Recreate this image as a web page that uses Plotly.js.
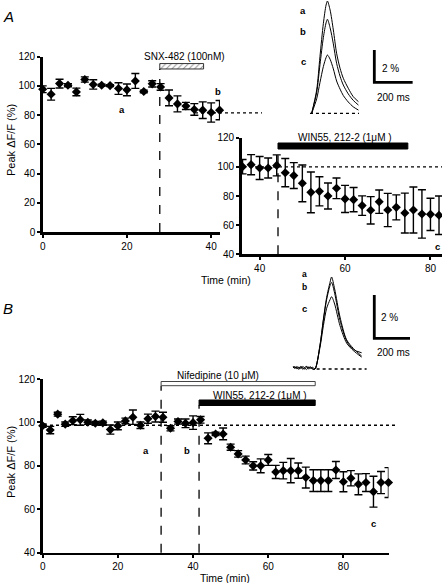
<!DOCTYPE html>
<html><head><meta charset="utf-8">
<script src="https://cdn.plot.ly/plotly-3.0.1.min.js"></script>
<style>html,body{margin:0;padding:0;background:#fff}#chart{width:442px;height:583px}</style>
</head><body><div id="chart"></div>
<script>
// ---------- DATA ----------
// Panel A, main graph (SNX-482)
const aTime  = [0,2,4,6,8,10,12,14,16,18,20,22,24,26,28,30,32,34,36,38,40,42];
const aValue = [97.7,94.3,101.6,100.5,95.9,104.4,101,100.5,100.2,98.2,97.3,103.4,96.2,101.4,99.3,91.8,87.7,86.3,83.9,83.4,81.8,83.4];
const aErr   = [2.3,4.0,3.0,1.1,2.6,1.8,3.2,0.7,0.7,4.0,4.0,5.1,0.9,2.1,2.3,5.4,5.5,2.4,4.0,5.7,6.6,6.6];
// Panel A, inset graph (WIN55,212-2)
const aInTime  = [36,38,40,42,44,46,48,50,52,54,56,58,60,62,64,66,68,70,72,74,76,78,80,82];
const aInValue = [100.1,101.5,99.2,99.2,101,96,94,88.7,82.5,83.2,80,85.3,78,77.5,73.4,70.2,76.1,70.4,72.2,68.3,70.4,67.7,67.4,66.8];
const aInErr   = [4.9,6.9,7.9,6.9,7.2,9.7,8.9,12.6,14,10,8.9,7.1,9.3,8.3,6.7,9.4,8.0,11.4,8.6,13.7,15.8,16.6,11.1,13.2];
// Panel B (Nifedipine + WIN55,212-2)
const bTime  = [0,2,4,6,8,10,12,14,16,18,20,22,24,26,28,30,32,34,36,38,40,42,44,46,48,50,52,54,56,58,60,62,64,66,68,70,72,74,76,78,80,82,84,86,88,90,92];
const bValue = [98.5,96.5,103.8,99.2,100.8,101.2,100.1,99.6,99.8,96.7,98.4,100.7,102.4,98.7,101.7,102.7,102.4,97.3,100.4,99.6,99.9,101.2,92.7,94.7,94.7,88.6,85.5,82.7,80,80,82.7,77.2,77.8,77.8,77.8,74.6,73.2,73.2,73.2,78.1,72.7,74.3,71.5,72.3,68.1,72.3,72.3];
const bErr   = [0.8,1.7,0.9,1.0,1.8,2.5,1.0,0.8,0.8,2.1,1.8,1.3,3.3,1.5,2.1,2.5,2.3,1.2,1.2,2.0,3.1,1.5,2.5,0.8,2.7,1.4,1.5,1.8,1.9,3.2,2.5,3.0,3.8,5.6,3.5,4.8,5.0,5.0,5.0,3.9,4.6,3.5,4.8,4.1,7.1,5.1,6.9];
// Drug application windows (min)
const snxWindow  = [27.8, 38.2];
const winAWindow = [44.3, 74.7];
const nifWindow  = [31.5, 72.5];
const winBWindow = [41.6, 72.5];
// Reference levels (%)
const aPostLevel = 81.5, aInsetBase = 100, bBase = 98.7;
// Example transients, panel A (ms, % dF/F)
const trATime = [0,26,43,61,75,82,96,113,130,148,165,191,217,244];
const trA_a   = [0,1.44,3.5,5.57,6.7,6.95,6.4,5.16,3.72,2.79,2.17,1.55,1.03,0.72];
const trA_b   = [0,1.3,3.0,4.7,5.6,5.82,5.3,4.3,3.1,2.3,1.75,1.2,0.8,0.51];
const trA_c   = [0,0.9,1.9,2.9,3.45,3.61,3.35,2.75,2.0,1.5,1.1,0.7,0.4,0.2];
// Example transients, panel B (ms, % dF/F)
const trBTime = [-123,-112,-101,-90,-79,-68,-57,-46,-35,-24,-13,0,28,47,65,84,93,110,140,177,215,261];
const trB_a   = [0.10,0.02,0.12,0.04,0.10,-0.02,0.08,0.12,0.00,0.06,0.02,0,1.1,2.3,3.3,4.0,4.25,3.7,2.4,1.35,0.95,0.6];
const trB_b   = [0.05,0.12,0.00,0.10,0.02,0.12,0.04,-0.02,0.10,0.03,0.08,0,1.1,2.25,3.2,3.85,4.0,3.5,2.25,1.3,0.9,0.75];
const trB_c   = [0.12,0.06,0.08,-0.02,0.12,0.05,0.00,0.10,0.06,0.10,-0.02,0,1.0,2.0,2.8,3.2,3.34,3.0,2.0,1.2,0.85,0.55];
const scaleMs = 200, scalePct = 2;

// ---------- LAYOUT HELPERS ----------
const W = 442, H = 583;
const PX = x => x / W;
const PY = y => 1 - y / H;
const FONT = 'Arial, "Liberation Sans", Helvetica, sans-serif';

function dataTrace(x, y, err, xa, ya) {
  return {
    x: x, y: y, xaxis: xa, yaxis: ya, type: 'scatter', mode: 'markers',
    marker: {symbol: 'diamond', size: 7, color: '#000'},
    error_y: {type: 'data', array: err, visible: true, color: '#000', thickness: 1.4, width: 4},
    cliponaxis: false, hoverinfo: 'skip'
  };
}
function lineTrace(x, y, xa, ya, w) {
  return {x: x, y: y, xaxis: xa, yaxis: ya, type: 'scatter', mode: 'lines',
    line: {color: '#000', width: w || 1, shape: 'spline', smoothing: 0.8}, cliponaxis: false, hoverinfo: 'skip'};
}

const traces = [
  dataTrace(aTime, aValue, aErr, 'x', 'y'),
  dataTrace(aInTime, aInValue, aInErr, 'x2', 'y2'),
  dataTrace(bTime, bValue, bErr, 'x3', 'y3'),
  lineTrace(trATime, trA_a, 'x4', 'y4'),
  lineTrace(trATime, trA_b, 'x4', 'y4'),
  lineTrace(trATime, trA_c, 'x4', 'y4'),
  lineTrace(trBTime, trB_a, 'x5', 'y5'),
  lineTrace(trBTime, trB_b, 'x5', 'y5'),
  lineTrace(trBTime, trB_c, 'x5', 'y5'),
  // hatched SNX-482 application bar
  {x: [snxWindow[0], snxWindow[1], snxWindow[1], snxWindow[0], snxWindow[0]],
   y: [111.6, 111.6, 115.3, 115.3, 111.6], xaxis: 'x', yaxis: 'y', type: 'scatter', mode: 'lines',
   fill: 'toself', fillcolor: '#fff', fillpattern: {shape: '/', fgcolor: '#999', bgcolor: '#fff', size: 4, solidity: 0.25},
   line: {color: '#333', width: 1}, cliponaxis: false, hoverinfo: 'skip'}
];

const axBase = {
  showgrid: false, zeroline: false, showline: true, linecolor: '#000', linewidth: 2.5,
  ticks: 'outside', ticklen: 3, tickwidth: 2, tickcolor: '#000',
  tickfont: {family: FONT, size: 10, color: '#000'}, fixedrange: true
};
const hidden = {visible: false, showgrid: false, zeroline: false, fixedrange: true};

const shapes = [];
function vdash(x, xref, yTopPx, yBotPx) {
  shapes.push({type: 'line', xref: xref, yref: 'paper', x0: x, x1: x, y0: PY(yBotPx), y1: PY(yTopPx),
    line: {color: '#000', width: 1.3, dash: 'dash'}});
}
function drugBar(win, xref, yTopPx, yBotPx, fill, lineCol) {
  shapes.push({type: 'rect', xref: xref, yref: 'paper', x0: win[0], x1: win[1], y0: PY(yBotPx), y1: PY(yTopPx),
    fillcolor: fill, line: {color: lineCol, width: 1}});
}
// dashed application markers
vdash(snxWindow[0], 'x', 69, 232);
vdash(winAWindow[0], 'x2', 149, 254.3);
vdash(nifWindow[0], 'x3', 385.7, 552.7);
vdash(winBWindow[0], 'x3', 405, 552.7);
// drug bars
drugBar(winAWindow, 'x2', 143, 149, '#000', '#000');
drugBar(nifWindow, 'x3', 381.5, 385.7, '#fff', '#444');
drugBar(winBWindow, 'x3', 400, 405.5, '#000', '#000');
// dotted reference lines
shapes.push({type: 'line', xref: 'paper', yref: 'y', x0: PX(195), x1: PX(262), y0: aPostLevel, y1: aPostLevel,
  line: {color: '#000', width: 1.3, dash: 'dot'}});
shapes.push({type: 'line', xref: 'paper', yref: 'y2', x0: PX(243), x1: PX(442), y0: aInsetBase, y1: aInsetBase,
  line: {color: '#000', width: 1.3, dash: 'dot'}});
shapes.push({type: 'line', xref: 'paper', yref: 'y3', x0: PX(44), x1: PX(397), y0: bBase, y1: bBase,
  line: {color: '#000', width: 1.3, dash: 'dot'}});
// baselines of example transients
shapes.push({type: 'line', xref: 'x4', yref: 'y4', x0: -9, x1: 247, y0: 0, y1: 0, line: {color: '#000', width: 1.3, dash: 'dot'}});
shapes.push({type: 'line', xref: 'x5', yref: 'y5', x0: 9, x1: 289, y0: 0, y1: 0, line: {color: '#000', width: 1.3, dash: 'dot'}});
// scale bars
function scaleBar(xref, yref, x0, y0) {
  shapes.push({type: 'path', xref: xref, yref: yref,
    path: 'M ' + x0 + ' ' + (y0 + scalePct) + ' L ' + x0 + ' ' + y0 + ' L ' + (x0 + scaleMs) + ' ' + y0,
    line: {color: '#000', width: 2.8}});
}
scaleBar('x4', 'y4', 327, 1.92);
scaleBar('x5', 'y5', 332, 1.418);

const annotations = [];
function txt(text, x, y, opts) {
  annotations.push(Object.assign({text: text, xref: 'paper', yref: 'paper', x: PX(x), y: PY(y),
    showarrow: false, xanchor: 'center', yanchor: 'middle',
    font: {family: FONT, size: 10, color: '#000'}}, opts || {}));
}
txt('<i>A</i>', 8, 17, {font: {family: FONT, size: 15, color: '#000'}});
txt('<i>B</i>', 8, 308, {font: {family: FONT, size: 15, color: '#000'}});
txt('Peak ΔF/F (%)', 11, 140, {textangle: -90, font: {family: FONT, size: 11, color: '#000'}});
txt('Peak ΔF/F (%)', 11, 462, {textangle: -90, font: {family: FONT, size: 11, color: '#000'}});
txt('Time (min)', 226, 280, {font: {family: FONT, size: 10.5, color: '#000'}});
txt('Time (min)', 225, 578, {font: {family: FONT, size: 10.5, color: '#000'}});
txt('SNX-482 (100nM)', 184, 56);
txt('WIN55, 212-2 (1μM )', 345, 137);
txt('Nifedipine (10 μM)', 218, 375);
txt('WIN55, 212-2 (1μM )', 260, 395);
const bold = {family: FONT, size: 9.5, color: '#000', weight: 'bold'};
const boldS = {family: FONT, size: 8.5, color: '#000', weight: 'bold'};
txt('<b>a</b>', 122, 110, {font: bold});
txt('<b>b</b>', 218, 92, {font: bold});
txt('<b>c</b>', 437, 246, {font: bold});
txt('<b>a</b>', 146, 450, {font: bold});
txt('<b>b</b>', 187, 450, {font: bold});
txt('<b>c</b>', 373, 523, {font: bold});
txt('<b>a</b>', 303, 11, {font: bold});
txt('<b>b</b>', 303, 32, {font: bold});
txt('<b>c</b>', 303, 62, {font: bold});
txt('<b>a</b>', 304, 274, {font: boldS});
txt('<b>b</b>', 304, 286.5, {font: boldS});
txt('<b>c</b>', 304, 308, {font: bold});
txt('2 %', 390, 69);
txt('200 ms', 393, 97);
txt('2 %', 389, 317);
txt('200 ms', 393, 352);

const layout = {
  width: W, height: H, margin: {l: 0, r: 0, t: 0, b: 0, pad: 0},
  paper_bgcolor: '#fff', plot_bgcolor: 'rgba(0,0,0,0)', showlegend: false,
  font: {family: FONT, size: 10, color: '#000'},
  xaxis: Object.assign({}, axBase, {domain: [PX(42.7), PX(220)], range: [0, 42.1], tickvals: [0, 20, 40], anchor: 'y'}),
  yaxis: Object.assign({}, axBase, {domain: [PY(232), PY(56.7)], range: [0, 120], tickvals: [0, 20, 40, 60, 80, 100, 120], anchor: 'x'}),
  xaxis2: Object.assign({}, axBase, {domain: [PX(241.7), PX(442)], range: [35.8, 82.7], tickvals: [40, 60, 80], anchor: 'y2'}),
  yaxis2: Object.assign({}, axBase, {domain: [PY(254.3), PY(137.7)], range: [40, 120], tickvals: [40, 60, 80, 100, 120], anchor: 'x2'}),
  xaxis3: Object.assign({}, axBase, {domain: [PX(42.7), PX(388.5)], range: [0, 92], tickvals: [0, 20, 40, 60, 80], anchor: 'y3'}),
  yaxis3: Object.assign({}, axBase, {domain: [PY(552.7), PY(379)], range: [40, 120], tickvals: [40, 60, 80, 100, 120], anchor: 'x3'}),
  xaxis4: Object.assign({}, hidden, {domain: [PX(300), PX(420)], range: [-61.1, 565.5], anchor: 'y4'}),
  yaxis4: Object.assign({}, hidden, {domain: [PY(120), PY(0)], range: [-0.415, 7.016], anchor: 'x4'}),
  xaxis5: Object.assign({}, hidden, {domain: [PX(280), PX(420)], range: [-196, 588], anchor: 'y5'}),
  yaxis5: Object.assign({}, hidden, {domain: [PY(375), PY(270)], range: [-0.277, 4.573], anchor: 'x5'}),
  shapes: shapes, annotations: annotations
};

Plotly.newPlot('chart', traces, layout, {staticPlot: true, displayModeBar: false});
</script></body></html>
